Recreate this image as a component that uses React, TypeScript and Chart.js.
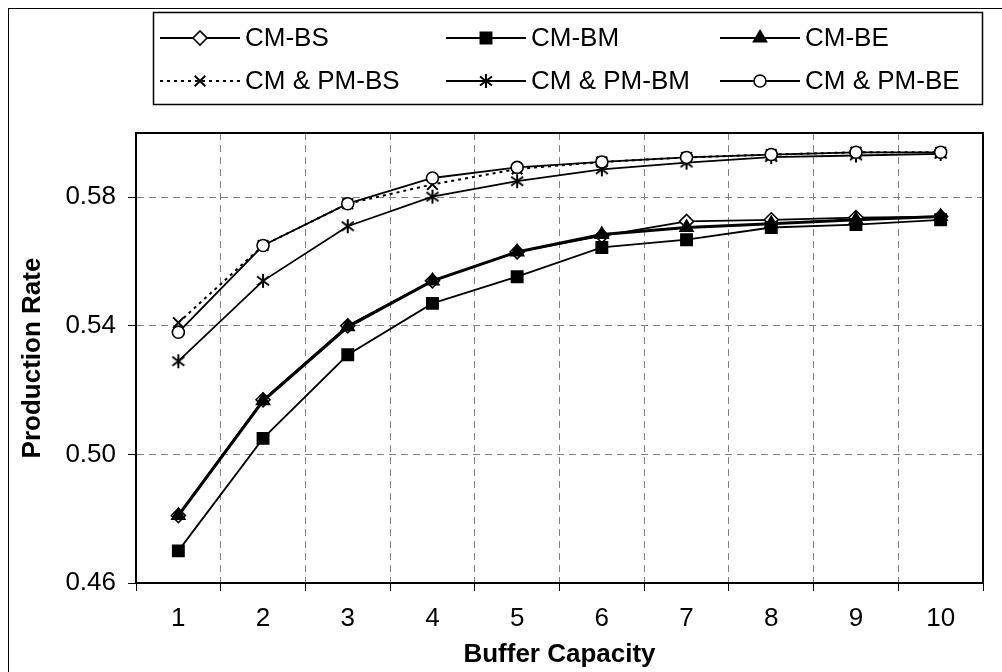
import React, { useEffect, useRef } from "react";
import { Chart, registerables } from "chart.js";
import { drawPoint } from "chart.js/helpers";

Chart.register(...registerables);

// ---- data ----
const categories = ["1", "2", "3", "4", "5", "6", "7", "8", "9", "10"];
const seriesNames = ["CM-BS", "CM-BM", "CM-BE", "CM & PM-BS", "CM & PM-BM", "CM & PM-BE"];
const cmBS = [0.481, 0.517, 0.540, 0.554, 0.563, 0.568, 0.5725, 0.573, 0.5737, 0.574];
const cmBM = [0.470, 0.505, 0.531, 0.547, 0.5553, 0.5644, 0.5668, 0.5706, 0.5715, 0.573];
const cmBE = [0.481, 0.5167, 0.5397, 0.554, 0.563, 0.5684, 0.5706, 0.5718, 0.573, 0.574];
const cmpmBS = [0.541, 0.565, 0.578, 0.584, 0.5888, 0.591, 0.5924, 0.5933, 0.594, 0.594];
const cmpmBM = [0.529, 0.554, 0.571, 0.5802, 0.585, 0.5887, 0.5908, 0.5925, 0.593, 0.5935];
const cmpmBE = [0.538, 0.565, 0.578, 0.586, 0.5893, 0.591, 0.5924, 0.5933, 0.594, 0.594];
const yTicks = [0.46, 0.5, 0.54, 0.58];
const yMin = 0.46;
const yMax = 0.6;

const FONT = "'Liberation Sans', Arial, sans-serif";
const FS = 26;

function makeStar(): HTMLCanvasElement {
  const c = document.createElement("canvas");
  c.width = 16;
  c.height = 16;
  const g = c.getContext("2d")!;
  g.strokeStyle = "#000";
  g.lineWidth = 2;
  g.beginPath();
  g.moveTo(8, 1);
  g.lineTo(8, 15);
  g.moveTo(2, 3.5);
  g.lineTo(14, 12.5);
  g.moveTo(2, 12.5);
  g.lineTo(14, 3.5);
  g.stroke();
  return c;
}

export default function App() {
  const ref = useRef<HTMLCanvasElement>(null);

  useEffect(() => {
    const canvas = ref.current!;
    const star = makeStar();

    const styles: any[] = [
      { pointStyle: "rectRot", radius: 7, bg: "#fff", lw: 1.8, dash: [] },
      { pointStyle: "rect", radius: 8, bg: "#000", lw: 1.8, dash: [] },
      { pointStyle: "triangle", radius: 7.5, bg: "#000", lw: 3, dash: [] },
      { pointStyle: "crossRot", radius: 7.5, bg: "#000", lw: 2, dash: [3, 4] },
      { pointStyle: star, radius: 7, bg: "#000", lw: 1.8, dash: [] },
      { pointStyle: "circle", radius: 6, bg: "#fff", lw: 1.8, dash: [] },
    ];
    const values = [cmBS, cmBM, cmBE, cmpmBS, cmpmBM, cmpmBE];

    const datasets = values.map((v, i) => ({
      label: seriesNames[i],
      data: v,
      borderColor: "#000",
      backgroundColor: styles[i].bg,
      borderWidth: styles[i].lw,
      borderDash: styles[i].dash,
      pointStyle: styles[i].pointStyle,
      pointRadius: styles[i].radius,
      pointBackgroundColor: styles[i].bg,
      pointBorderColor: "#000",
      pointBorderWidth: i === 3 ? 2 : 1.6,
      tension: 0,
      fill: false,
      order: 10 - i,
    }));

    const legendCols = [160, 446, 720];
    const legendRows = [38, 81];
    const sampleLen = 80;

    const framePlugin = {
      id: "framePlugin",
      afterDraw(chart: any) {
        const ctx = chart.ctx as CanvasRenderingContext2D;
        ctx.save();
        ctx.setLineDash([]);
        ctx.strokeStyle = "#000";
        ctx.lineWidth = 1;
        ctx.strokeRect(8.5, 8.5, 1200, 1200);
        const a = chart.chartArea;
        ctx.lineWidth = 2;
        ctx.strokeRect(a.left, a.top, a.right - a.left, a.bottom - a.top);
        // legend box
        ctx.lineWidth = 1.5;
        ctx.strokeRect(153.5, 12.5, 829, 92);
        ctx.font = `${FS}px ${FONT}`;
        ctx.textBaseline = "middle";
        ctx.textAlign = "left";
        chart.data.datasets.forEach((ds: any, i: number) => {
          const x0 = legendCols[i % 3];
          const y = legendRows[Math.floor(i / 3)];
          ctx.save();
          ctx.strokeStyle = "#000";
          ctx.lineWidth = Math.min(ds.borderWidth, 2);
          ctx.setLineDash(ds.borderDash || []);
          ctx.beginPath();
          ctx.moveTo(x0, y);
          ctx.lineTo(x0 + sampleLen, y);
          ctx.stroke();
          ctx.setLineDash([]);
          ctx.fillStyle = ds.pointBackgroundColor;
          ctx.lineWidth = ds.pointBorderWidth;
          drawPoint(ctx, { pointStyle: ds.pointStyle, radius: ds.pointRadius, rotation: 0, borderWidth: ds.pointBorderWidth } as any, x0 + sampleLen / 2, y);
          ctx.restore();
          ctx.fillStyle = "#000";
          ctx.fillText(ds.label, x0 + sampleLen + 5, y + 1);
        });
        ctx.restore();
      },
    };

    const chart = new Chart(canvas, {
      type: "line",
      data: { labels: categories, datasets: datasets as any },
      options: {
        responsive: false,
        animation: false,
        devicePixelRatio: 1,
        layout: { padding: { top: 133, right: 19, left: 0, bottom: 0 } },
        plugins: { legend: { display: false }, tooltip: { enabled: false } },
        scales: {
          x: {
            type: "category",
            offset: true,
            grid: {
              offset: true,
              color: "#808080",
              lineWidth: 1,
              tickLength: 8,
              tickColor: "#000",
              tickWidth: 1,
            },
            border: { display: true, color: "#000", width: 2, dash: [7, 5] },
            ticks: { color: "#000", font: { family: FONT, size: FS }, padding: 12, maxRotation: 0 },
            title: {
              display: true,
              text: "Buffer Capacity",
              color: "#000",
              font: { family: FONT, size: FS, weight: "bold" },
              padding: { top: 0, bottom: 2 },
            },
            afterFit: (s: any) => {
              s.height = 89;
            },
          },
          y: {
            min: yMin,
            max: yMax,
            afterBuildTicks: (s: any) => {
              s.ticks = yTicks.map((v) => ({ value: v }));
            },
            grid: {
              color: "#808080",
              lineWidth: 1,
              tickLength: 8,
              tickColor: "#000",
              tickWidth: 1,
            },
            border: { display: true, color: "#000", width: 2, dash: [7, 5] },
            ticks: {
              color: "#000",
              font: { family: FONT, size: FS },
              padding: 12,
              callback: (v: any) => Number(v).toFixed(2),
            },
            title: {
              display: true,
              text: "Production Rate",
              color: "#000",
              font: { family: FONT, size: FS, weight: "bold" },
              padding: { top: 17, bottom: 0 },
            },
            afterFit: (s: any) => {
              s.width = 136;
            },
          },
        },
      },
      plugins: [framePlugin],
    });
    return () => chart.destroy();
  }, []);

  return (
    <div style={{ position: "absolute", left: 0, top: 0, width: 1002, height: 672, background: "#fff" }}>
      <canvas ref={ref} width={1002} height={672} style={{ display: "block" }} />
    </div>
  );
}
